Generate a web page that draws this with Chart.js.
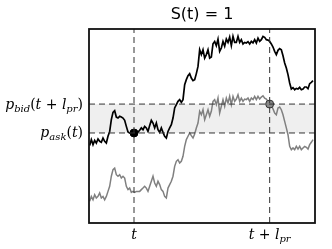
<!DOCTYPE html>
<html>
<head>
<meta charset="utf-8">
<script src="https://cdn.jsdelivr.net/npm/chart.js@4"></script>
<style>
html, body { margin: 0; padding: 0; background: #fff; }
canvas { display: block; }
</style>
</head>
<body>
<canvas id="chart" width="332" height="249"></canvas>
<script>
/* =========================
DATA
========================= */
const titleText = 'S(t) = 1';

// ask price path (black), one value per time step
const askPrice = [
    40.0, 43.0, 40.4, 42.6, 41.2, 43.3, 42.1, 41.6, 43.8, 42.1,
    41.2, 44.7, 47.2, 53.3, 57.0, 57.9, 54.6, 54.1, 55.0, 54.6,
    54.1, 52.9, 49.8, 46.9, 46.4, 46.7, 46.4, 46.4, 46.4, 46.9,
    47.8, 49.0, 48.1, 49.8, 49.0, 47.2, 50.2, 52.9, 51.5, 49.0,
    51.5, 48.1, 46.7, 49.0, 46.7, 44.7, 43.8, 47.2, 49.0, 50.7,
    54.1, 59.3, 61.0, 62.7, 63.6, 62.2, 63.6, 71.3, 73.9, 75.9,
    77.0, 74.7, 73.4, 73.9, 77.0, 80.7, 89.3, 86.8, 89.3, 85.0,
    86.8, 89.3, 85.0, 85.6, 92.4, 93.6, 91.4, 94.8, 88.5, 90.2,
    93.6, 91.1, 94.8, 93.1, 95.9, 91.4, 96.2, 93.1, 93.1, 96.2,
    93.1, 94.5, 92.3, 93.1, 92.8, 93.5, 92.3, 93.6, 92.8, 94.5,
    92.8, 95.3, 93.6, 94.5, 96.2, 95.7, 94.5, 94.3, 93.6, 92.3,
    90.7, 88.5, 86.8, 89.0, 89.9, 89.3, 86.2, 82.5, 79.9, 76.5,
    72.2, 69.1, 69.8, 68.7, 69.4, 69.1, 69.9, 68.7, 69.1, 70.1,
    70.1, 69.2, 71.8, 72.5, 73.4
];

// bid price path (grey)
const bidPrice = [
    11.2, 13.7, 12.0, 14.6, 12.9, 13.7, 15.5, 12.9, 13.7, 12.0,
    13.7, 16.3, 18.9, 24.1, 27.5, 28.3, 24.9, 24.1, 24.9, 23.2,
    24.1, 23.2, 18.9, 17.2, 18.0, 15.8, 16.3, 15.8, 16.3, 16.3,
    16.3, 17.2, 18.0, 18.9, 18.0, 16.3, 18.9, 21.5, 24.1, 20.6,
    18.9, 21.5, 19.8, 17.2, 16.3, 13.7, 12.9, 18.0, 19.8, 21.5,
    24.1, 29.2, 31.8, 32.6, 30.9, 31.8, 34.4, 39.5, 43.0, 44.7,
    46.4, 45.0, 43.8, 45.9, 49.0, 51.5, 57.6, 55.8, 58.4, 53.3,
    55.8, 58.4, 55.0, 57.6, 62.7, 63.6, 61.0, 64.4, 56.7, 60.1,
    63.6, 60.1, 64.4, 61.8, 65.3, 61.0, 65.3, 62.7, 63.9, 66.1,
    62.7, 64.4, 62.7, 63.9, 63.6, 64.4, 62.7, 64.4, 63.6, 65.3,
    63.6, 65.3, 63.9, 64.9, 65.6, 64.4, 63.9, 62.7, 61.3, 60.5,
    58.8, 56.7, 55.8, 59.3, 59.8, 58.4, 55.8, 52.4, 49.0, 45.5,
    39.5, 37.8, 38.7, 37.8, 39.5, 38.1, 39.5, 37.8, 38.7, 39.5,
    39.0, 38.1, 40.4, 41.6, 43.0
];

// marked times and price levels
const tNow = 26.6;
const tLater = 108.0;
const pAsk = 46.4;
const pBid = 61.3;
const xRange = [-0.4, 135.2];
const yRange = [0, 100];

// tick labels (tiny tex: letters italic, _{..} subscript)
const xTickValues = [tNow, tLater];
const xTickLabels = ['t', 't + l_{pr}'];
const yTickValues = [pBid, pAsk];
const yTickLabels = ['p_{bid}(t + l_{pr})', 'p_{ask}(t)'];

/* =========================
HELPERS
========================= */
function parseTex(s) {
    const runs = [];
    let i = 0;
    while (i < s.length) {
        if (s[i] === '_') {
            const end = s.indexOf('}', i);
            runs.push({ text: s.slice(i + 2, end), sub: true, italic: true });
            i = end + 1;
        } else {
            runs.push({ text: s[i], sub: false, italic: /[a-z]/i.test(s[i]) });
            i++;
        }
    }
    return runs;
}

function drawTex(ctx, s, x, y, align) {
    const runs = parseTex(s);
    const fontFor = r => `${r.italic ? 'italic ' : ''}${r.sub ? 10 : 14}px "DejaVu Serif"`;
    let w = 0;
    runs.forEach(r => {
        ctx.font = fontFor(r);
        r.w = ctx.measureText(r.text).width;
        w += r.w;
    });
    let cx = align === 'right' ? x - w : align === 'center' ? x - w / 2 : x;
    ctx.textAlign = 'left';
    ctx.textBaseline = 'alphabetic';
    runs.forEach(r => {
        ctx.font = fontFor(r);
        ctx.fillText(r.text, cx, y + (r.sub ? 3 : 0));
        cx += r.w;
    });
}

const hLine = v => [{ x: xRange[0], y: v }, { x: xRange[1], y: v }];
const vLine = v => [{ x: v, y: yRange[0] }, { x: v, y: yRange[1] }];
const toPoints = arr => arr.map((v, i) => ({ x: i, y: v }));

const dashStyle = {
    borderColor: '#333',
    borderWidth: 1,
    borderDash: [6, 4],
    pointRadius: 0,
    fill: false,
    order: 0
};

/* =========================
LABELS + FRAME PLUGIN
========================= */
const texLabels = {
    id: 'texLabels',
    afterDraw(chart) {
        const { ctx, chartArea: a, scales: { x, y } } = chart;
        ctx.save();
        ctx.strokeStyle = '#111';
        ctx.lineWidth = 1.8;
        ctx.strokeRect(a.left, a.top, a.right - a.left, a.bottom - a.top);

        ctx.fillStyle = '#000';
        ctx.font = '16px "DejaVu Sans"';
        ctx.textAlign = 'center';
        ctx.textBaseline = 'alphabetic';
        ctx.fillText(titleText, (a.left + a.right) / 2, 19);

        yTickValues.forEach((v, i) => {
            drawTex(ctx, yTickLabels[i], a.left - 6, y.getPixelForValue(v) + 4.5, 'right');
        });
        xTickValues.forEach((v, i) => {
            drawTex(ctx, xTickLabels[i], x.getPixelForValue(v), a.bottom + 16, 'center');
        });
        ctx.restore();
    }
};

/* =========================
CHART
========================= */
new Chart(document.getElementById('chart').getContext('2d'), {
    type: 'line',
    data: {
        datasets: [
            { ...dashStyle, data: hLine(pAsk) },
            { ...dashStyle, data: hLine(pBid) },
            { ...dashStyle, data: vLine(tNow) },
            { ...dashStyle, data: vLine(tLater) },
            {
                data: [{ x: tNow, y: pAsk }],
                showLine: false,
                pointRadius: 4,
                pointBackgroundColor: '#000',
                pointBorderColor: '#000',
                order: 1
            },
            {
                data: [{ x: tLater, y: pBid }],
                showLine: false,
                pointRadius: 4,
                pointBackgroundColor: '#888',
                pointBorderColor: '#333',
                pointBorderWidth: 1,
                order: 1
            },
            {
                data: toPoints(askPrice),
                borderColor: '#000',
                borderWidth: 1.7,
                pointRadius: 0,
                tension: 0,
                fill: false,
                order: 2
            },
            {
                data: toPoints(bidPrice),
                borderColor: '#808080',
                borderWidth: 1.5,
                pointRadius: 0,
                tension: 0,
                fill: false,
                order: 3
            },
            {
                data: hLine(pBid),
                borderWidth: 0,
                pointRadius: 0,
                backgroundColor: '#efefef',
                fill: { value: pAsk },
                order: 9
            }
        ]
    },
    options: {
        responsive: false,
        animation: false,
        devicePixelRatio: 1,
        layout: { padding: { left: 89, right: 17, top: 29, bottom: 26 } },
        plugins: {
            legend: { display: false },
            tooltip: { enabled: false },
            title: { display: false }
        },
        scales: {
            x: { type: 'linear', min: xRange[0], max: xRange[1], display: false },
            y: { type: 'linear', min: yRange[0], max: yRange[1], display: false }
        }
    },
    plugins: [texLabels]
});
</script>
</body>
</html>
